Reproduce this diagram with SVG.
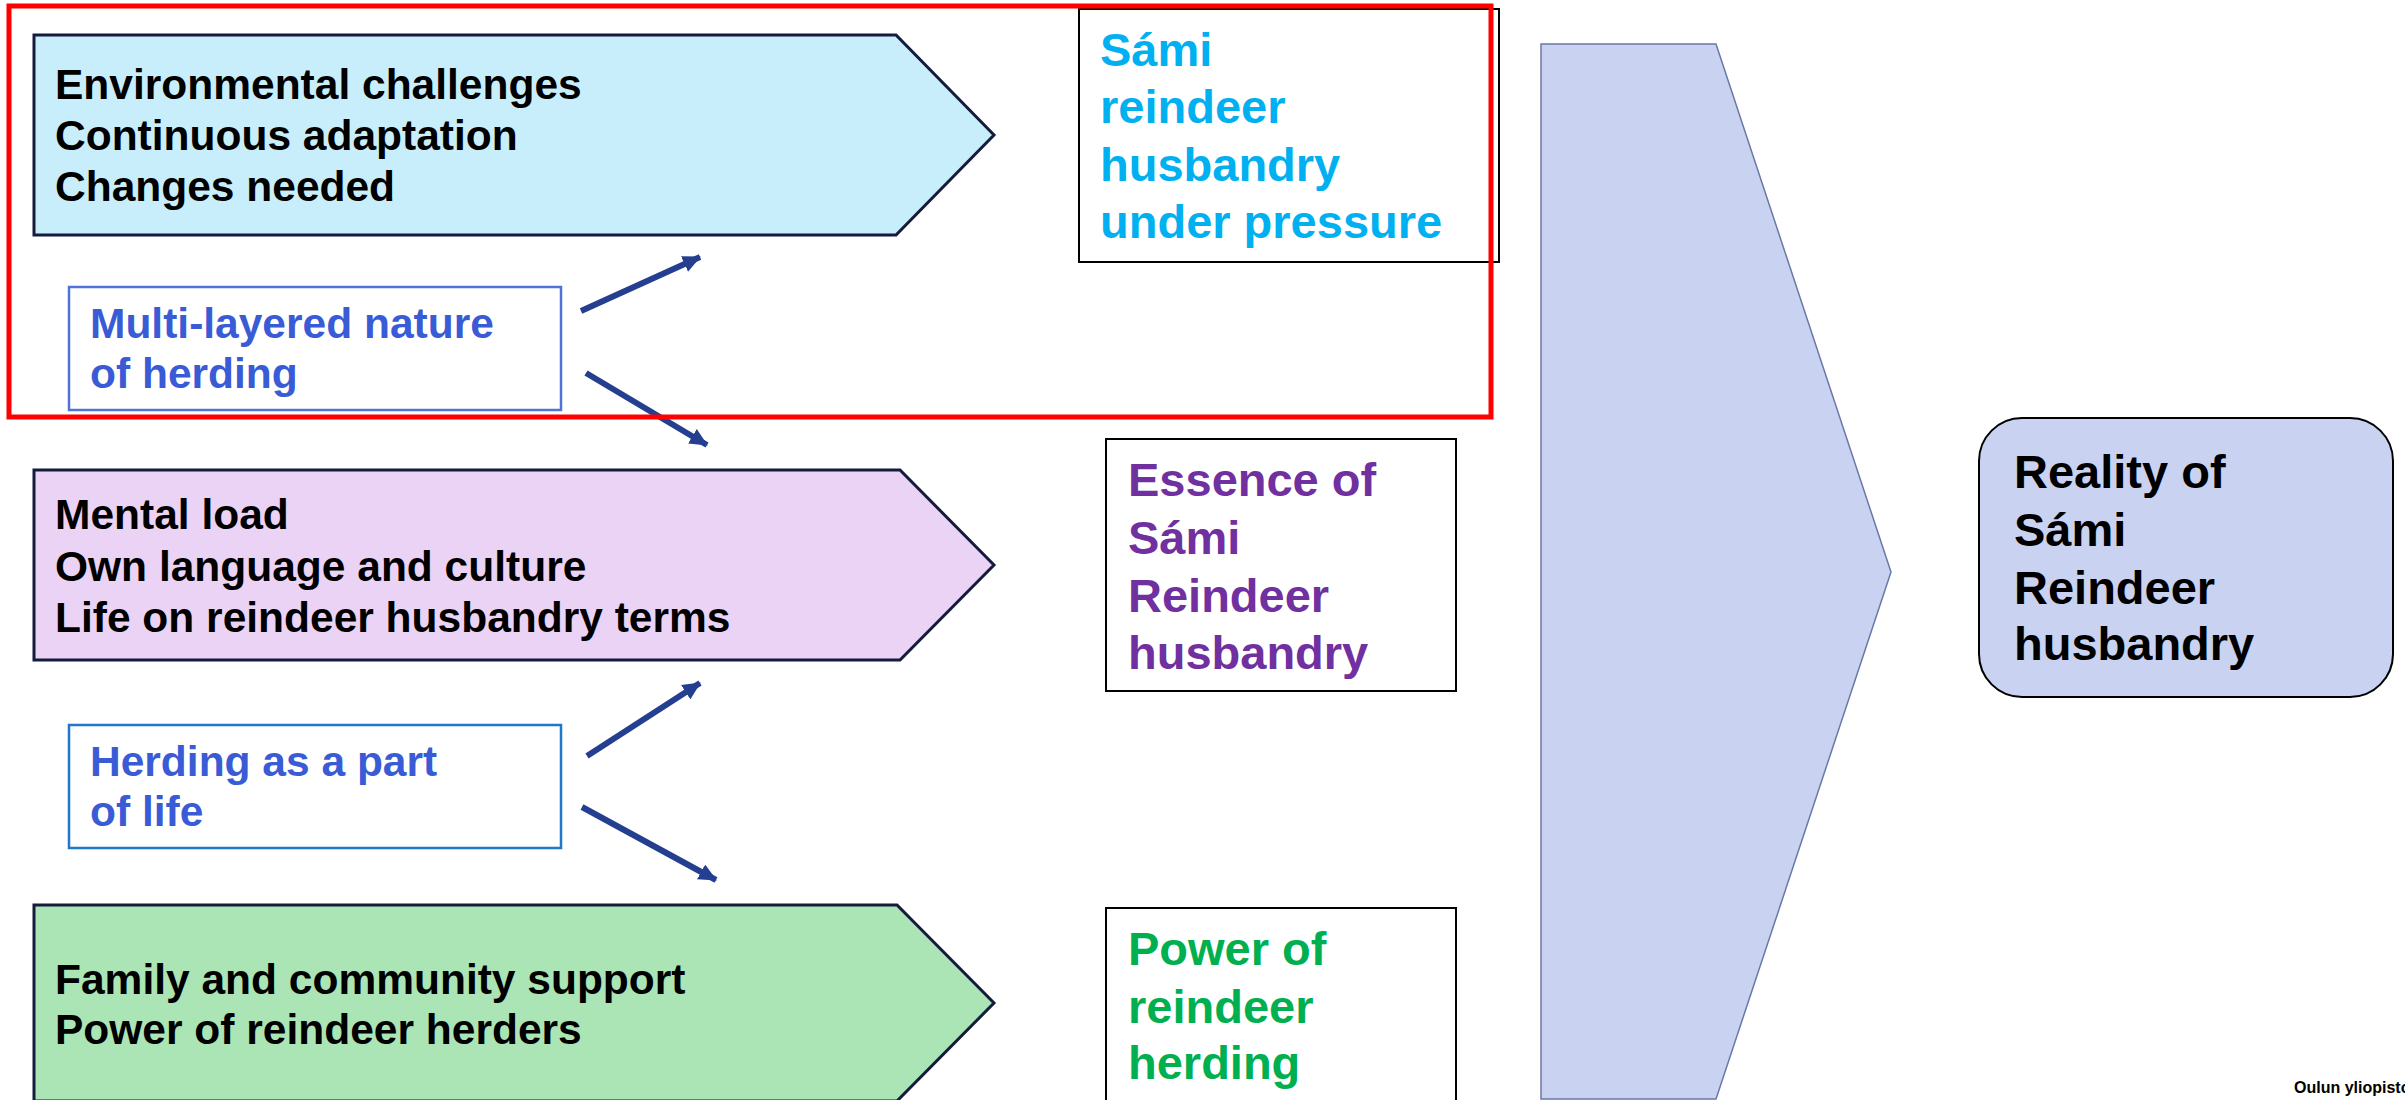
<svg xmlns="http://www.w3.org/2000/svg" width="2405" height="1100" viewBox="0 0 2405 1100">
<defs>
<marker id="ah" markerWidth="18" markerHeight="17" refX="17" refY="8.5" orient="auto" markerUnits="userSpaceOnUse" viewBox="0 0 18 17">
<path d="M0,0 L18,8.5 L0,17 z" fill="#243F8F"/>
</marker>
<style>
.b{font-family:"Liberation Sans",Arial,sans-serif;font-weight:bold}
.blk{font-size:42.5px;fill:#000}
.big{font-size:47px}
.pent{stroke:#141B3C;stroke-width:3}
.conn{stroke:#243F8F;stroke-width:6;fill:none}
</style>
</defs>
<rect width="2405" height="1100" fill="#fff"/>

<g id="big-chevron">
<polygon points="1541,44 1716,44 1891,572 1716,1099 1541,1099" fill="#C9D3F1" stroke="#6A78A8" stroke-width="1.5"/>
</g>

<g id="node-environment">
<polygon class="pent" points="34,35 896,35 994,135 896,235 34,235" fill="#C9EEFB"/>
<text class="b blk"><tspan x="55" y="99">Environmental challenges</tspan><tspan x="55" y="150">Continuous adaptation</tspan><tspan x="55" y="201">Changes needed</tspan></text>
</g>

<g id="node-multilayered">
<rect x="69" y="287" width="492" height="123" fill="#fff" stroke="#4F73D9" stroke-width="2.5"/>
<text class="b" font-size="42.5" fill="#3A5BD6"><tspan x="90" y="338">Multi-layered nature</tspan><tspan x="90" y="388">of herding</tspan></text>
</g>

<g id="node-mental">
<polygon class="pent" points="34,470 900,470 994,565 900,660 34,660" fill="#EBD3F5"/>
<text class="b blk"><tspan x="55" y="529">Mental load</tspan><tspan x="55" y="581">Own language and culture</tspan><tspan x="55" y="632">Life on reindeer husbandry terms</tspan></text>
</g>

<g id="node-herding-life">
<rect x="69" y="725" width="492" height="123" fill="#fff" stroke="#1F78C8" stroke-width="2.5"/>
<text class="b" font-size="42.5" fill="#3A5BD6"><tspan x="90" y="776">Herding as a part</tspan><tspan x="90" y="826">of life</tspan></text>
</g>

<g id="node-family">
<polygon class="pent" points="34,905 897,905 994,1003 897,1101 34,1101" fill="#ABE5B5"/>
<text class="b blk"><tspan x="55" y="994">Family and community support</tspan><tspan x="55" y="1044">Power of reindeer herders</tspan></text>
</g>

<g id="node-pressure">
<rect x="1079" y="9" width="420" height="253" fill="#fff" stroke="#000" stroke-width="2"/>
<text class="b big" fill="#00B0F0"><tspan x="1100" y="66">Sámi</tspan><tspan x="1100" y="123">reindeer</tspan><tspan x="1100" y="181">husbandry</tspan><tspan x="1100" y="238">under pressure</tspan></text>
</g>

<g id="node-essence">
<rect x="1106" y="439" width="350" height="252" fill="#fff" stroke="#000" stroke-width="2"/>
<text class="b big" fill="#7030A0"><tspan x="1128" y="496">Essence of</tspan><tspan x="1128" y="554">Sámi</tspan><tspan x="1128" y="612">Reindeer</tspan><tspan x="1128" y="669">husbandry</tspan></text>
</g>

<g id="node-power">
<rect x="1106" y="908" width="350" height="200" fill="#fff" stroke="#000" stroke-width="2"/>
<text class="b big" fill="#00B050"><tspan x="1128" y="965">Power of</tspan><tspan x="1128" y="1023">reindeer</tspan><tspan x="1128" y="1079">herding</tspan></text>
</g>

<g id="node-reality">
<rect x="1979" y="418" width="414" height="279" rx="43" ry="43" fill="#C9D3F1" stroke="#000" stroke-width="2"/>
<text class="b big" fill="#000"><tspan x="2014" y="488">Reality of</tspan><tspan x="2014" y="546">Sámi</tspan><tspan x="2014" y="604">Reindeer</tspan><tspan x="2014" y="660">husbandry</tspan></text>
</g>

<g id="connectors">
<line class="conn" x1="581" y1="311" x2="700" y2="257" marker-end="url(#ah)"/>
<line class="conn" x1="586" y1="373" x2="707" y2="445" marker-end="url(#ah)"/>
<line class="conn" x1="587" y1="756" x2="700" y2="683" marker-end="url(#ah)"/>
<line class="conn" x1="582" y1="807" x2="716" y2="880" marker-end="url(#ah)"/>
</g>

<g id="highlight">
<rect x="9" y="6" width="1482" height="411" fill="none" stroke="#FF0000" stroke-width="5"/>
</g>

<g id="footer">
<text class="b" font-size="16" fill="#000" x="2294" y="1093">Oulun yliopisto</text>
</g>
</svg>
